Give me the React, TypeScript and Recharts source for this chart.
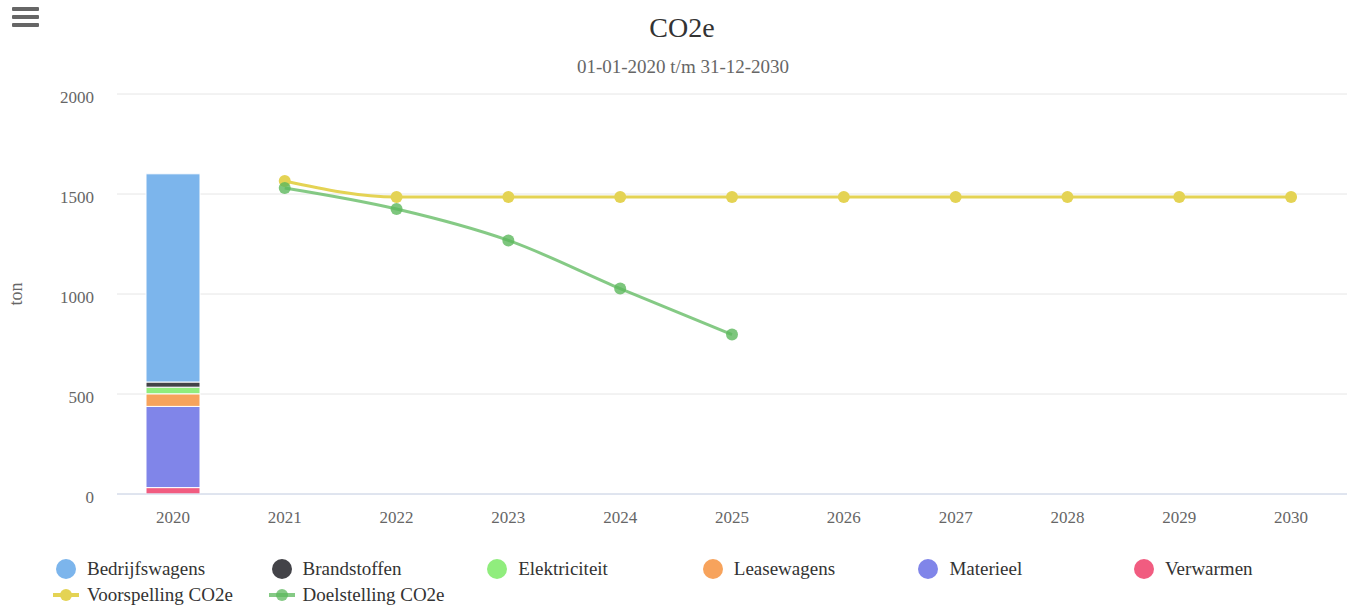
import React from 'react';
import { ComposedChart, Bar, Line, XAxis, YAxis, CartesianGrid, Label } from 'recharts';

const years = ['2020', '2021', '2022', '2023', '2024', '2025', '2026', '2027', '2028', '2029', '2030'];

// stacked emissions (only measured year 2020)
const verwarmen = [32, null, null, null, null, null, null, null, null, null, null];
const materieel = [406, null, null, null, null, null, null, null, null, null, null];
const leasewagens = [63, null, null, null, null, null, null, null, null, null, null];
const elektriciteit = [33, null, null, null, null, null, null, null, null, null, null];
const brandstoffen = [26, null, null, null, null, null, null, null, null, null, null];
const bedrijfswagens = [1041, null, null, null, null, null, null, null, null, null, null];

const voorspelling = [null, 1565, 1485, 1485, 1485, 1485, 1485, 1485, 1485, 1485, 1485];
const doelstelling = [null, 1530, 1425, 1268, 1027, 797, null, null, null, null, null];

const yTicks = [0, 500, 1000, 1500, 2000];

const FONT = '"Liberation Serif", "Times New Roman", serif';

const data = years.map((year, i) => ({
  year,
  Verwarmen: verwarmen[i],
  Materieel: materieel[i],
  Leasewagens: leasewagens[i],
  Elektriciteit: elektriciteit[i],
  Brandstoffen: brandstoffen[i],
  Bedrijfswagens: bedrijfswagens[i],
  'Voorspelling CO2e': voorspelling[i],
  'Doelstelling CO2e': doelstelling[i],
}));

// bottom to top
const stack = [
  { key: 'Verwarmen', color: '#f15c80' },
  { key: 'Materieel', color: '#8085e9' },
  { key: 'Leasewagens', color: '#f7a35c' },
  { key: 'Elektriciteit', color: '#90ed7d' },
  { key: 'Brandstoffen', color: '#434348' },
  { key: 'Bedrijfswagens', color: '#7cb5ec' },
];

const legendRow1 = [
  { name: 'Bedrijfswagens', color: '#7cb5ec' },
  { name: 'Brandstoffen', color: '#434348' },
  { name: 'Elektriciteit', color: '#90ed7d' },
  { name: 'Leasewagens', color: '#f7a35c' },
  { name: 'Materieel', color: '#8085e9' },
  { name: 'Verwarmen', color: '#f15c80' },
];

const legendRow2 = [
  { name: 'Voorspelling CO2e', color: '#e4d354', opacity: 1 },
  { name: 'Doelstelling CO2e', color: '#5cb85c', opacity: 0.75 },
];

const LEGEND_X = 56;
const LEGEND_STEP = 215.6;

export default function App() {
  return (
    <div style={{ position: 'absolute', left: 0, top: 0, width: 1354, height: 610, background: '#fff', fontFamily: FONT }}>
      {/* menu icon */}
      {[7, 15, 23].map((y) => (
        <div key={y} style={{ position: 'absolute', left: 12, top: y, width: 27, height: 4, background: '#666', borderRadius: 1 }} />
      ))}

      <svg width={1354} height={90} style={{ position: 'absolute', left: 0, top: 0 }}>
        <text x={682} y={37} textAnchor="middle" fontSize={28} fill="#333333" fontFamily={FONT}>CO2e</text>
        <text x={683} y={73} textAnchor="middle" fontSize={19} fill="#666666" fontFamily={FONT}>01-01-2020 t/m 31-12-2030</text>
      </svg>

      <div style={{ position: 'absolute', left: 0, top: 0 }}>
        <ComposedChart width={1354} height={540} data={data} margin={{ top: 94, right: 7, bottom: 0, left: 0 }}>
          <CartesianGrid horizontal vertical={false} stroke="#e6e6e6" />
          <XAxis
            dataKey="year"
            height={46}
            tickLine={false}
            tickSize={0}
            tickMargin={17}
            axisLine={{ stroke: '#ccd6eb' }}
            tick={{ fill: '#666666', fontSize: 17, fontFamily: FONT }}
            interval={0}
          />
          <YAxis
            width={117}
            domain={[0, 2000]}
            ticks={yTicks}
            axisLine={false}
            tickLine={false}
            tickSize={0}
            tickMargin={23}
            tick={{ fill: '#666666', fontSize: 17, fontFamily: FONT, dy: 3 }}
          >
            <Label value="ton" angle={-90} position="center" dx={-43} fill="#666666" fontSize={18} fontFamily={FONT} />
          </YAxis>
          {stack.map((s) => (
            <Bar key={s.key} dataKey={s.key} stackId="a" fill={s.color} stroke="#ffffff" strokeWidth={1} barSize={54} isAnimationActive={false} />
          ))}
          <Line
            type="monotone"
            dataKey="Voorspelling CO2e"
            stroke="#e4d354"
            strokeWidth={3}
            dot={{ r: 6, fill: '#e4d354', stroke: 'none' }}
            activeDot={false}
            isAnimationActive={false}
          />
          <Line
            type="monotone"
            dataKey="Doelstelling CO2e"
            stroke="#5cb85c"
            strokeOpacity={0.75}
            strokeWidth={3}
            dot={{ r: 6, fill: '#5cb85c', fillOpacity: 0.8, stroke: 'none' }}
            activeDot={false}
            isAnimationActive={false}
          />
        </ComposedChart>
      </div>

      {/* legend */}
      {legendRow1.map((item, i) => (
        <div key={item.name} style={{ position: 'absolute', left: LEGEND_X + i * LEGEND_STEP, top: 559, height: 20, display: 'flex', alignItems: 'center' }}>
          <div style={{ width: 20, height: 20, borderRadius: 10, background: item.color }} />
          <span style={{ marginLeft: 11, fontSize: 19, color: '#333333', lineHeight: '20px', whiteSpace: 'nowrap' }}>{item.name}</span>
        </div>
      ))}
      {legendRow2.map((item, i) => (
        <div key={item.name} style={{ position: 'absolute', left: LEGEND_X + i * LEGEND_STEP, top: 585, height: 20, display: 'flex', alignItems: 'center' }}>
          <div style={{ position: 'relative', width: 20, height: 20 }}>
            <div style={{ position: 'absolute', left: -3, top: 8, width: 26, height: 4, background: item.color, opacity: item.opacity }} />
            <div style={{ position: 'absolute', left: 4, top: 4, width: 12, height: 12, borderRadius: 6, background: item.color, opacity: item.opacity }} />
          </div>
          <span style={{ marginLeft: 11, fontSize: 19, color: '#333333', lineHeight: '20px', whiteSpace: 'nowrap' }}>{item.name}</span>
        </div>
      ))}
    </div>
  );
}
